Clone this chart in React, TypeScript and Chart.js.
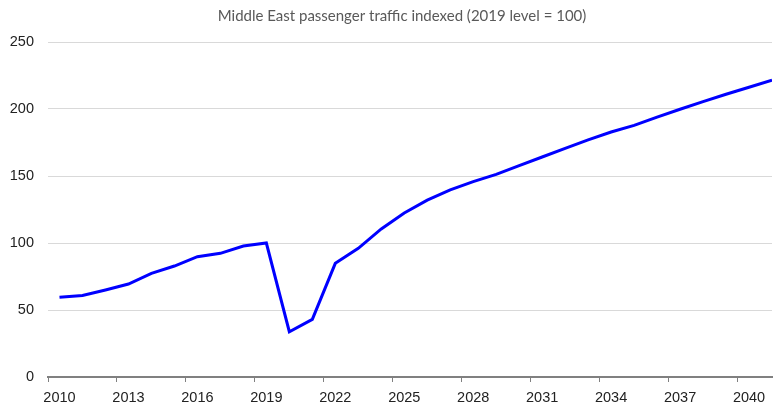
import React, { useEffect, useRef } from "react";
import { Chart, registerables } from "chart.js";

Chart.register(...registerables);

const TITLE = "Middle East passenger traffic indexed (2019 level = 100)";
const years = [
  2010, 2011, 2012, 2013, 2014, 2015, 2016, 2017, 2018, 2019, 2020,
  2021, 2022, 2023, 2024, 2025, 2026, 2027, 2028, 2029, 2030, 2031,
  2032, 2033, 2034, 2035, 2036, 2037, 2038, 2039, 2040, 2041,
];
const traffic = [
  59.5, 60.8, 64.9, 69.4, 77.4, 82.8, 89.8, 92.3, 97.8, 100, 33.8,
  43, 84.8, 96, 110.5, 122.4, 132, 139.6, 145.8, 151.2, 157.8, 164.2,
  170.6, 176.9, 182.8, 187.8, 194, 199.8, 205.5, 211, 216.2, 221.6,
];
const yTicks = [0, 50, 100, 150, 200, 250];
const xTickStep = 3;

const TICK_FONT = "'Liberation Sans', Arial, sans-serif";

const titlePlugin = {
  id: "offsetTitle",
  afterDraw(chart: any) {
    const ctx = chart.ctx;
    ctx.save();
    ctx.font = "normal 15px Lato";
    ctx.fillStyle = "#595959";
    ctx.textAlign = "center";
    ctx.textBaseline = "middle";
    ctx.fillText(TITLE, 402, 16);
    ctx.restore();
  },
};

export default function App() {
  const ref = useRef<HTMLCanvasElement | null>(null);

  useEffect(() => {
    if (!ref.current) return;
    const chart = new Chart(ref.current, {
      type: "line",
      data: {
        datasets: [
          {
            data: years.map((y, i) => ({ x: y + 0.5, y: traffic[i] })),
            borderColor: "#0000ff",
            borderWidth: 3,
            pointRadius: 0,
            tension: 0,
            fill: false,
          },
        ],
      },
      plugins: [titlePlugin],
      options: {
        animation: false,
        responsive: false,
        maintainAspectRatio: false,
        layout: { padding: { left: 0, right: 1, top: 42, bottom: 0 } },
        plugins: {
          legend: { display: false },
          tooltip: { enabled: false },
          title: { display: false },
        },
        scales: {
          x: {
            type: "linear",
            min: years[0],
            max: years[years.length - 1] + 0.5,
            border: { display: true, color: "#808080", width: 2 },
            grid: {
              display: true,
              drawOnChartArea: false,
              drawTicks: true,
              tickLength: 5,
              color: "#808080",
              lineWidth: 1,
            },
            afterFit: (scale: any) => {
              scale.height = 29;
            },
            ticks: {
              stepSize: xTickStep,
              includeBounds: false,
              autoSkip: false,
              maxRotation: 0,
              labelOffset: 11.5,
              color: "#222222",
              font: { family: TICK_FONT, size: 14.5 },
              padding: 7,
              callback: (v: any) => String(v),
            },
          },
          y: {
            min: yTicks[0],
            max: yTicks[yTicks.length - 1],
            border: { display: false },
            grid: { color: "#d9d9d9", lineWidth: 1, drawTicks: false },
            afterFit: (scale: any) => {
              scale.width = 48;
            },
            ticks: {
              stepSize: 50,
              color: "#222222",
              font: { family: TICK_FONT, size: 14.5 },
              padding: 14,
            },
          },
        },
      },
    });
    return () => chart.destroy();
  }, []);

  return (
    <div style={{ position: "fixed", left: 0, top: 0, width: 773, height: 406, background: "#fff" }}>
      <canvas ref={ref} width={773} height={406} style={{ width: 773, height: 406 }} />
    </div>
  );
}
